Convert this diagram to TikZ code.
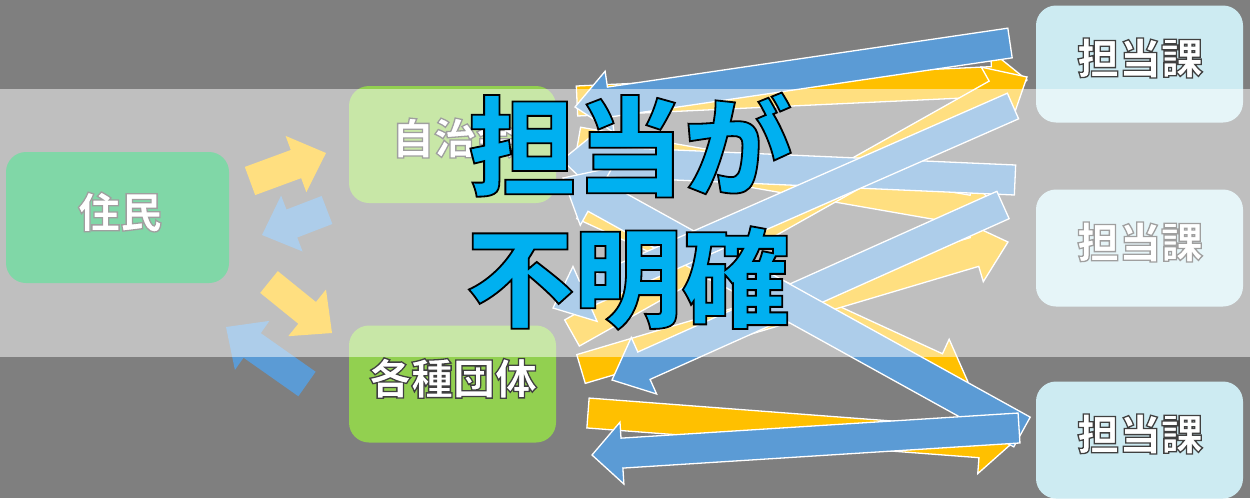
\documentclass[tikz,border=0pt]{standalone}
\usepackage{fontspec}
\newfontfamily\jp{Noto Sans CJK JP}
\usetikzlibrary{calc}
\definecolor{bg}{HTML}{7F7F7F}
\definecolor{yel}{HTML}{FFC000}
\definecolor{blu}{HTML}{5B9BD5}
\definecolor{grn}{HTML}{92D050}
\definecolor{dgrn}{HTML}{00B050}
\definecolor{cyb}{HTML}{CDEBF2}
\definecolor{bigc}{HTML}{00B0F0}
% outlined text: #1 stroke rgb, #2 fill colour, #3 stroke width, #4 text
\newcommand\outlined[4]{{\color{#2}\special{pdf:literal direct 2 Tr #3 w #1 RG}#4\special{pdf:literal direct 0 Tr}}}
\newcommand\barrow[6]{%
 \coordinate (ta) at #2; \coordinate (tp) at #3;
 \coordinate (hb) at ($(tp)!#6!(ta)$);
 \path[#1] ($(ta)!#4!90:(tp)$) -- ($(hb)!#4!90:(tp)$) -- ($(hb)!#5!90:(tp)$) -- (tp)
   -- ($(hb)!#5!-90:(tp)$) -- ($(hb)!#4!-90:(tp)$) -- ($(ta)!#4!-90:(tp)$) -- cycle;}
\tikzset{
 box/.style={rounded corners=20pt, inner sep=0pt, minimum width=207pt, minimum height=117pt},
 lbl/.style={font=\jp\bfseries\fontsize{42}{50}\selectfont},
 big/.style={font=\jp\bfseries\fontsize{108}{120}\selectfont, inner sep=0pt},
 ya/.style={fill=yel, draw=white, line width=1.3pt, line join=miter},
 ba/.style={fill=blu, draw=white, line width=1.3pt, line join=miter},
 ys/.style={fill=yel},
 bs/.style={fill=blu},
}
\begin{document}
\begin{tikzpicture}[x=1pt,y=-1pt]
\useasboundingbox (0,0) rectangle (1250,498);
\clip (0,0) rectangle (1250,498);
\fill[bg] (0,0) rectangle (1250,498);
% boxes
\node[box, fill=dgrn, minimum width=223pt, minimum height=131pt] (jumin) at (117.5,217.5) {};
\node[box, fill=grn] (jichi) at (452.5,144.5) {};
\node[box, fill=grn] (kakushu) at (452.5,384) {};
\node[box, fill=cyb] (ka1) at (1139.5,64) {};
\node[box, fill=cyb] (ka2) at (1139.5,248) {};
\node[box, fill=cyb] (ka3) at (1139.5,440) {};
\node[lbl] (l0) at (120,212) {\outlined{0.25 0.25 0.25}{white}{1.3}{住民}};
\node[lbl] (l1) at (455,138) {\outlined{0.25 0.25 0.25}{white}{1.3}{自治会}};
\node[lbl] (l2) at (453,378) {\outlined{0.25 0.25 0.25}{white}{1.3}{各種団体}};
\node[lbl] (l3) at (1140,58) {\outlined{0.25 0.25 0.25}{white}{1.3}{担当課}};
\node[lbl] (l4) at (1140,242) {\outlined{0.25 0.25 0.25}{white}{1.3}{担当課}};
\node[lbl] (l5) at (1140,434) {\outlined{0.25 0.25 0.25}{white}{1.3}{担当課}};
% small arrows
\barrow{ys}{(250,181)}{(326,153)}{15pt}{30pt}{32pt}
\barrow{bs}{(327,210)}{(262,235)}{15pt}{30pt}{32pt}
\barrow{ys}{(269,282)}{(332,333)}{14pt}{30pt}{32pt}
\barrow{bs}{(307,384)}{(226,327)}{15pt}{30pt}{32pt}
% yellow arrows
\barrow{ya}{(577,101)}{(1027,80)}{15pt}{31pt}{35pt}
\barrow{ya}{(578,142)}{(1002,216)}{15pt}{31pt}{35pt}
\barrow{ya}{(583,205)}{(968,382)}{15pt}{31pt}{35pt}
\barrow{ya}{(572,333)}{(1027,77)}{15pt}{31pt}{35pt}
\barrow{ya}{(581,369)}{(1008,242)}{15pt}{31pt}{35pt}
\barrow{ya}{(588,413)}{(1010,445)}{15pt}{31pt}{30pt}
% blue arrows
\barrow{ba}{(1010,43)}{(575,107)}{15pt}{31pt}{35pt}
\barrow{ba}{(1015,180)}{(562,160)}{15pt}{31pt}{35pt}
\barrow{ba}{(1003,205)}{(612,380)}{15pt}{31pt}{35pt}
\barrow{ba}{(1022,432)}{(563,178)}{17pt}{33pt}{38pt}
\barrow{ba}{(1013,106)}{(553,308)}{14pt}{30pt}{35pt}
\barrow{ba}{(1019,428)}{(592,455)}{15pt}{31pt}{30pt}
% translucent band
\fill[white, opacity=0.5] (0,89) rectangle (1250,357);
% big text
\node[big] (t1) at (630,145) {\outlined{0 0 0}{bigc}{1.8}{担当が}};
\node[big] (t2) at (628,278) {\outlined{0 0 0}{bigc}{1.8}{不明確}};
\end{tikzpicture}
\end{document}
